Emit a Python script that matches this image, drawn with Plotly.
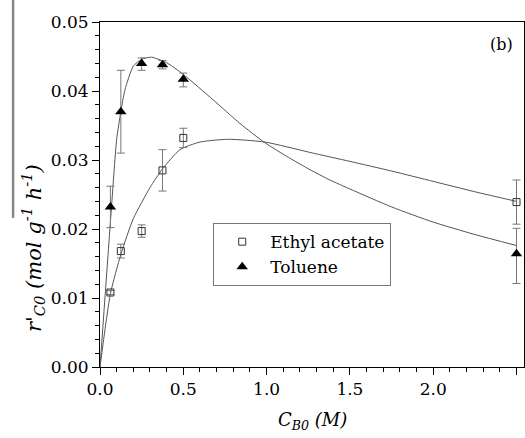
import plotly.graph_objects as go

# Measured data (C_B0 in M, rate in mol g^-1 h^-1)
conc = [0.0625, 0.125, 0.25, 0.375, 0.5, 2.5]
ethyl_acetate = [0.0108, 0.0168, 0.0197, 0.0285, 0.0332, 0.0239]
ethyl_err = [0.0003, 0.0010, 0.0009, 0.0030, 0.0014, 0.0032]
toluene = [0.0232, 0.0370, 0.0440, 0.0438, 0.0417, 0.0164]
toluene_err_plus = [0.0030, 0.0060, 0.0008, 0.0006, 0.0009, 0.0037]
toluene_err_minus = [0.0030, 0.0060, 0.0010, 0.0006, 0.0011, 0.0043]

# Fitted curves
tol_curve_x = [0, 0.046, 0.066, 0.1, 0.125, 0.15, 0.2, 0.25, 0.31, 0.4, 0.5, 0.68, 0.84, 0.99, 1.13, 1.26, 1.38, 1.5, 1.75, 2.0, 2.25, 2.5]
tol_curve_y = [0, 0.0155, 0.0222, 0.0330, 0.0370, 0.0402, 0.0436, 0.0446, 0.0449, 0.0441, 0.0424, 0.0387, 0.0353, 0.0325, 0.0304, 0.0286, 0.0271, 0.0258, 0.0232, 0.0210, 0.0192, 0.0176]
ea_curve_x = [0, 0.0625, 0.125, 0.2, 0.3, 0.375, 0.48, 0.6, 0.77, 0.99, 1.26, 1.5, 1.75, 2.0, 2.25, 2.5]
ea_curve_y = [0, 0.0106, 0.0163, 0.0215, 0.0260, 0.0287, 0.0315, 0.0326, 0.0330, 0.0326, 0.0311, 0.0298, 0.0284, 0.0269, 0.0254, 0.0240]

serif = "DejaVu Serif"

fig = go.Figure()
fig.add_trace(go.Scatter(x=tol_curve_x, y=tol_curve_y, mode="lines", line=dict(color="#555", width=1, shape="spline", smoothing=0.6), showlegend=False, hoverinfo="skip"))
fig.add_trace(go.Scatter(x=ea_curve_x, y=ea_curve_y, mode="lines", line=dict(color="#555", width=1, shape="spline", smoothing=0.6), showlegend=False, hoverinfo="skip"))
fig.add_trace(go.Scatter(
    x=conc, y=ethyl_acetate, mode="markers", name="Ethyl acetate",
    marker=dict(symbol="square-open", size=7, color="#333", line=dict(width=1)),
    error_y=dict(type="data", array=ethyl_err, color="#777", thickness=1, width=4),
))
fig.add_trace(go.Scatter(
    x=conc, y=toluene, mode="markers", name="Toluene",
    marker=dict(symbol="triangle-up", size=10, color="black"),
    error_y=dict(type="data", symmetric=False, array=toluene_err_plus, arrayminus=toluene_err_minus, color="#777", thickness=1, width=4),
))

axis_common = dict(showline=True, linecolor="black", linewidth=1, mirror=True, ticks="outside",
                   tickcolor="black", showgrid=False, zeroline=False,
                   tickfont=dict(family=serif, size=17, color="black"))
fig.update_xaxes(range=[0, 2.545], dtick=0.5, tickformat=".1f", ticklen=7,
                 minor=dict(dtick=0.1, ticks="outside", ticklen=4, tickcolor="black"), **axis_common)
fig.update_yaxes(range=[0, 0.05], dtick=0.01, tickformat=".2f", ticklen=7,
                 minor=dict(dtick=0.002, ticks="outside", ticklen=4, tickcolor="black"), **axis_common)

fig.update_layout(
    width=525, height=438, margin=dict(l=100, r=1, t=22, b=71),
    plot_bgcolor="white", paper_bgcolor="white",
    font=dict(family=serif, size=17, color="black"),
    legend=dict(x=0.267, y=0.417, xanchor="left", yanchor="top", bordercolor="#777", borderwidth=1,
                bgcolor="white", font=dict(family=serif, size=17), tracegroupgap=0, itemwidth=46),
    annotations=[
        dict(text="<i>r'<sub>C0</sub> (mol g<sup>-1</sup> h<sup>-1</sup>)</i>", textangle=-90,
             xref="paper", yref="paper", x=-0.158, y=0.345, xanchor="center", yanchor="middle",
             showarrow=False, font=dict(family=serif, size=21)),
        dict(text="<i>C<sub>B0</sub> (M)</i>", xref="paper", yref="paper", x=0.5, y=-0.157,
             xanchor="center", yanchor="middle", showarrow=False, font=dict(family=serif, size=18)),
        dict(text="(b)", xref="x", yref="y", x=2.407, y=0.0467, showarrow=False,
             font=dict(family=serif, size=16)),
    ],
    shapes=[dict(type="line", xref="paper", yref="paper", x0=-0.205, x1=-0.205, y0=1.064, y1=0.432,
                 line=dict(color="#888", width=2.5))],
)
fig.write_html("out.html")
